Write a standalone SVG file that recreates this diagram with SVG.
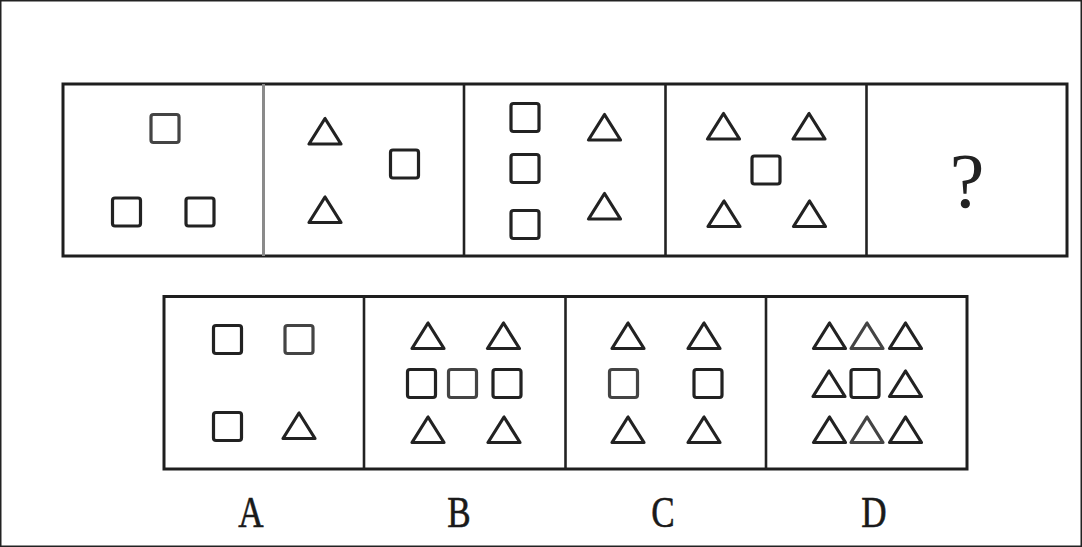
<svg xmlns="http://www.w3.org/2000/svg" xmlns:xlink="http://www.w3.org/1999/xlink" width="1082" height="547" viewBox="0 0 1082 547">
<style>
.frame{fill:none;stroke:#1e1e1e;stroke-width:3}
.div{stroke:#222;stroke-width:2.6}
.divg{stroke:#8a8a8a;stroke-width:3}
.shape{fill:none;stroke:#222;stroke-width:3.2;stroke-linejoin:round}
.lt{stroke:#444}
.lbl{font-family:"Liberation Serif","DejaVu Serif",serif;font-size:45px;fill:#1a1a1a;stroke:#1a1a1a;stroke-width:0.6;text-anchor:middle}
.q{font-family:"Liberation Serif","DejaVu Serif",serif;font-size:78px;fill:#222;text-anchor:middle}
</style>
<defs>
<rect id="sq" x="-14" y="-14" width="28" height="28" rx="2.5"/>
<path id="tr" d="M0,-13 L-16,12.5 L16,12.5 Z"/>
</defs>
<rect x="0.75" y="0.75" width="1080.5" height="545.5" fill="#fff" stroke="#222" stroke-width="1.5"/>

<g id="top-row">
<rect class="frame" x="63" y="84" width="1004" height="172"/>
<line class="divg" x1="263.5" y1="84" x2="263.5" y2="256"/>
<line class="div" x1="464" y1="84" x2="464" y2="256"/>
<line class="div" x1="665.5" y1="84" x2="665.5" y2="256"/>
<line class="div" x1="866.5" y1="84" x2="866.5" y2="256"/>
</g>

<g id="panel1" class="shape">
<use xlink:href="#sq" href="#sq" x="165" y="128.5" class="lt"/>
<use xlink:href="#sq" href="#sq" x="126.5" y="212"/>
<use xlink:href="#sq" href="#sq" x="200" y="212"/>
</g>
<g id="panel2" class="shape">
<use xlink:href="#tr" href="#tr" x="325" y="131.5"/>
<use xlink:href="#sq" href="#sq" x="404.5" y="164"/>
<use xlink:href="#tr" href="#tr" x="325" y="210"/>
</g>
<g id="panel3" class="shape">
<use xlink:href="#sq" href="#sq" x="525" y="117.5"/>
<use xlink:href="#sq" href="#sq" x="525" y="168.5"/>
<use xlink:href="#sq" href="#sq" x="525" y="224.5"/>
<use xlink:href="#tr" href="#tr" x="604.5" y="127.5"/>
<use xlink:href="#tr" href="#tr" x="604.5" y="206.5"/>
</g>
<g id="panel4" class="shape">
<use xlink:href="#tr" href="#tr" x="723.5" y="126.5"/>
<use xlink:href="#tr" href="#tr" x="809" y="126.5"/>
<use xlink:href="#sq" href="#sq" x="766" y="170"/>
<use xlink:href="#tr" href="#tr" x="724" y="214"/>
<use xlink:href="#tr" href="#tr" x="809.5" y="214"/>
</g>
<g id="panel5">
<text class="q" x="967" y="207">?</text>
</g>

<g id="bottom-row">
<rect class="frame" x="164" y="296.5" width="803" height="172.5"/>
<line class="div" x1="364" y1="296.5" x2="364" y2="469"/>
<line class="div" x1="565.5" y1="296.5" x2="565.5" y2="469"/>
<line class="div" x1="766" y1="296.5" x2="766" y2="469"/>
</g>

<g id="optionA" class="shape">
<use xlink:href="#sq" href="#sq" x="227.5" y="339.5"/>
<use xlink:href="#sq" href="#sq" x="299" y="339.5" class="lt"/>
<use xlink:href="#sq" href="#sq" x="227.5" y="426.5"/>
<use xlink:href="#tr" href="#tr" x="299" y="426"/>
</g>
<g id="optionB" class="shape">
<use xlink:href="#tr" href="#tr" x="428" y="336"/>
<use xlink:href="#tr" href="#tr" x="503.5" y="336"/>
<use xlink:href="#sq" href="#sq" x="421.5" y="383.5"/>
<use xlink:href="#sq" href="#sq" x="462.5" y="383.5" class="lt"/>
<use xlink:href="#sq" href="#sq" x="507" y="383.5"/>
<use xlink:href="#tr" href="#tr" x="428" y="430"/>
<use xlink:href="#tr" href="#tr" x="504" y="430"/>
</g>
<g id="optionC" class="shape">
<use xlink:href="#tr" href="#tr" x="628" y="336"/>
<use xlink:href="#tr" href="#tr" x="704" y="336"/>
<use xlink:href="#sq" href="#sq" x="623.5" y="383.5" class="lt"/>
<use xlink:href="#sq" href="#sq" x="708" y="383.5"/>
<use xlink:href="#tr" href="#tr" x="628" y="430"/>
<use xlink:href="#tr" href="#tr" x="704" y="430"/>
</g>
<g id="optionD" class="shape">
<use xlink:href="#tr" href="#tr" x="829.5" y="336"/>
<use xlink:href="#tr" href="#tr" x="867" y="336" class="lt"/>
<use xlink:href="#tr" href="#tr" x="905.5" y="336"/>
<use xlink:href="#tr" href="#tr" x="829" y="384"/>
<use xlink:href="#sq" href="#sq" x="865" y="383.5"/>
<use xlink:href="#tr" href="#tr" x="905.5" y="384"/>
<use xlink:href="#tr" href="#tr" x="829.5" y="430"/>
<use xlink:href="#tr" href="#tr" x="867" y="430" class="lt"/>
<use xlink:href="#tr" href="#tr" x="905.5" y="430"/>
</g>

<g id="labels">
<text class="lbl" x="251" y="527" transform="translate(251 0) scale(0.78 1) translate(-251 0)">A</text>
<text class="lbl" x="459" y="527" transform="translate(459 0) scale(0.78 1) translate(-459 0)">B</text>
<text class="lbl" x="663" y="527" transform="translate(663 0) scale(0.78 1) translate(-663 0)">C</text>
<text class="lbl" x="874" y="527" transform="translate(874 0) scale(0.78 1) translate(-874 0)">D</text>
</g>
</svg>
